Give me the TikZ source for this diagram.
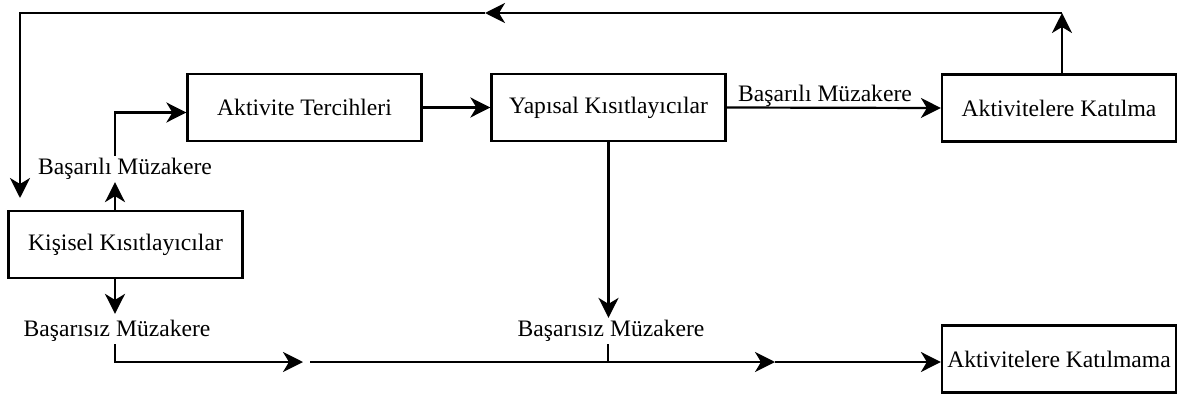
\documentclass[tikz,border=0pt]{standalone}
\usepackage{fontspec}
\setmainfont{Liberation Serif}
\newfontfamily\yazi{Liberation Serif}
\usetikzlibrary{positioning,arrows.meta}
\tikzset{
  kutu/.style={draw, line width=1.1pt, minimum width=117pt, minimum height=33.5pt, inner sep=2pt},
  etiket/.style={inner sep=1pt},
  ok/.style={line width=1.1pt, -{Stealth[length=10pt,width=10pt,inset=3pt]}},
  cizgi/.style={line width=1.1pt}
}

\begin{document}
\begin{tikzpicture}[x=0.5pt, y=-0.5pt, font=\yazi\fontsize{11.8}{13}\selectfont]
  \useasboundingbox (0,0) rectangle (1178,396);
  \node[kutu] (tercih) at (304.5,107.5) {Aktivite Tercihleri};
  \node[kutu] (yapisal) at (608.5,107.5) {Yapısal Kısıtlayıcılar};
  \node[kutu] (katilma) at (1059,108) {Aktivitelere Katılma};
  \node[kutu] (kisisel) at (125.5,244.5) {Kişisel Kısıtlayıcılar};
  \node[kutu] (katilmama) at (1059,359) {Aktivitelere Katılmama};
  \node[etiket] (basarili1) at (125,169) {Başarılı Müzakere};
  \node[etiket] (basarili2) at (825,96) {Başarılı Müzakere};
  \node[etiket] (basarisiz1) at (117,331) {Başarısız Müzakere};
  \node[etiket] (basarisiz2) at (611,331) {Başarısız Müzakere};
  \coordinate (ustsag) at (1062,13);
  \coordinate (ustorta) at (485,13);
  \coordinate (ustsol) at (20,13);
  \coordinate (solalt) at (20,198);
  \coordinate (altok1) at (303,362);
  \coordinate (altbas) at (310,362);
  \coordinate (altok2) at (775,362);
  \coordinate (yapx) at (608,362);
  % ust geri besleme
  \draw[ok] (katilma.north -| ustsag) -- (ustsag);
  \draw[ok] (ustsag) -- (ustorta);
  \draw[ok] (ustorta) -- (ustsol) -- (solalt);
  % kisisel kisitlayicilar
  \draw[ok] ([xshift=-5.25pt]kisisel.north) -- ([xshift=-5pt]basarili1.south);
  \draw[ok] ([xshift=-5pt]basarili1.north) |- ([yshift=-2.5pt]tercih.west);
  \draw[ok] ([xshift=-5.25pt]kisisel.south) -- ([xshift=-1pt,yshift=2pt]basarisiz1.north);
  \draw[ok] ([xshift=-1pt]basarisiz1.south) |- (altok1);
  % yapisal kisitlayicilar
  \draw[ok] (tercih.east) -- (yapisal.west);
  \draw[ok] (yapisal.east) -- (katilma.west);
  \draw[ok] (yapisal.south) -- (yapisal.south |- basarisiz2.north);
  \draw[cizgi] (yapx |- basarisiz2.south) -- (yapx);
  \draw[ok] (altbas) -- (altok2);
  \draw[ok] (altok2) -- (katilmama.west |- altok2);
\end{tikzpicture}
\end{document}
